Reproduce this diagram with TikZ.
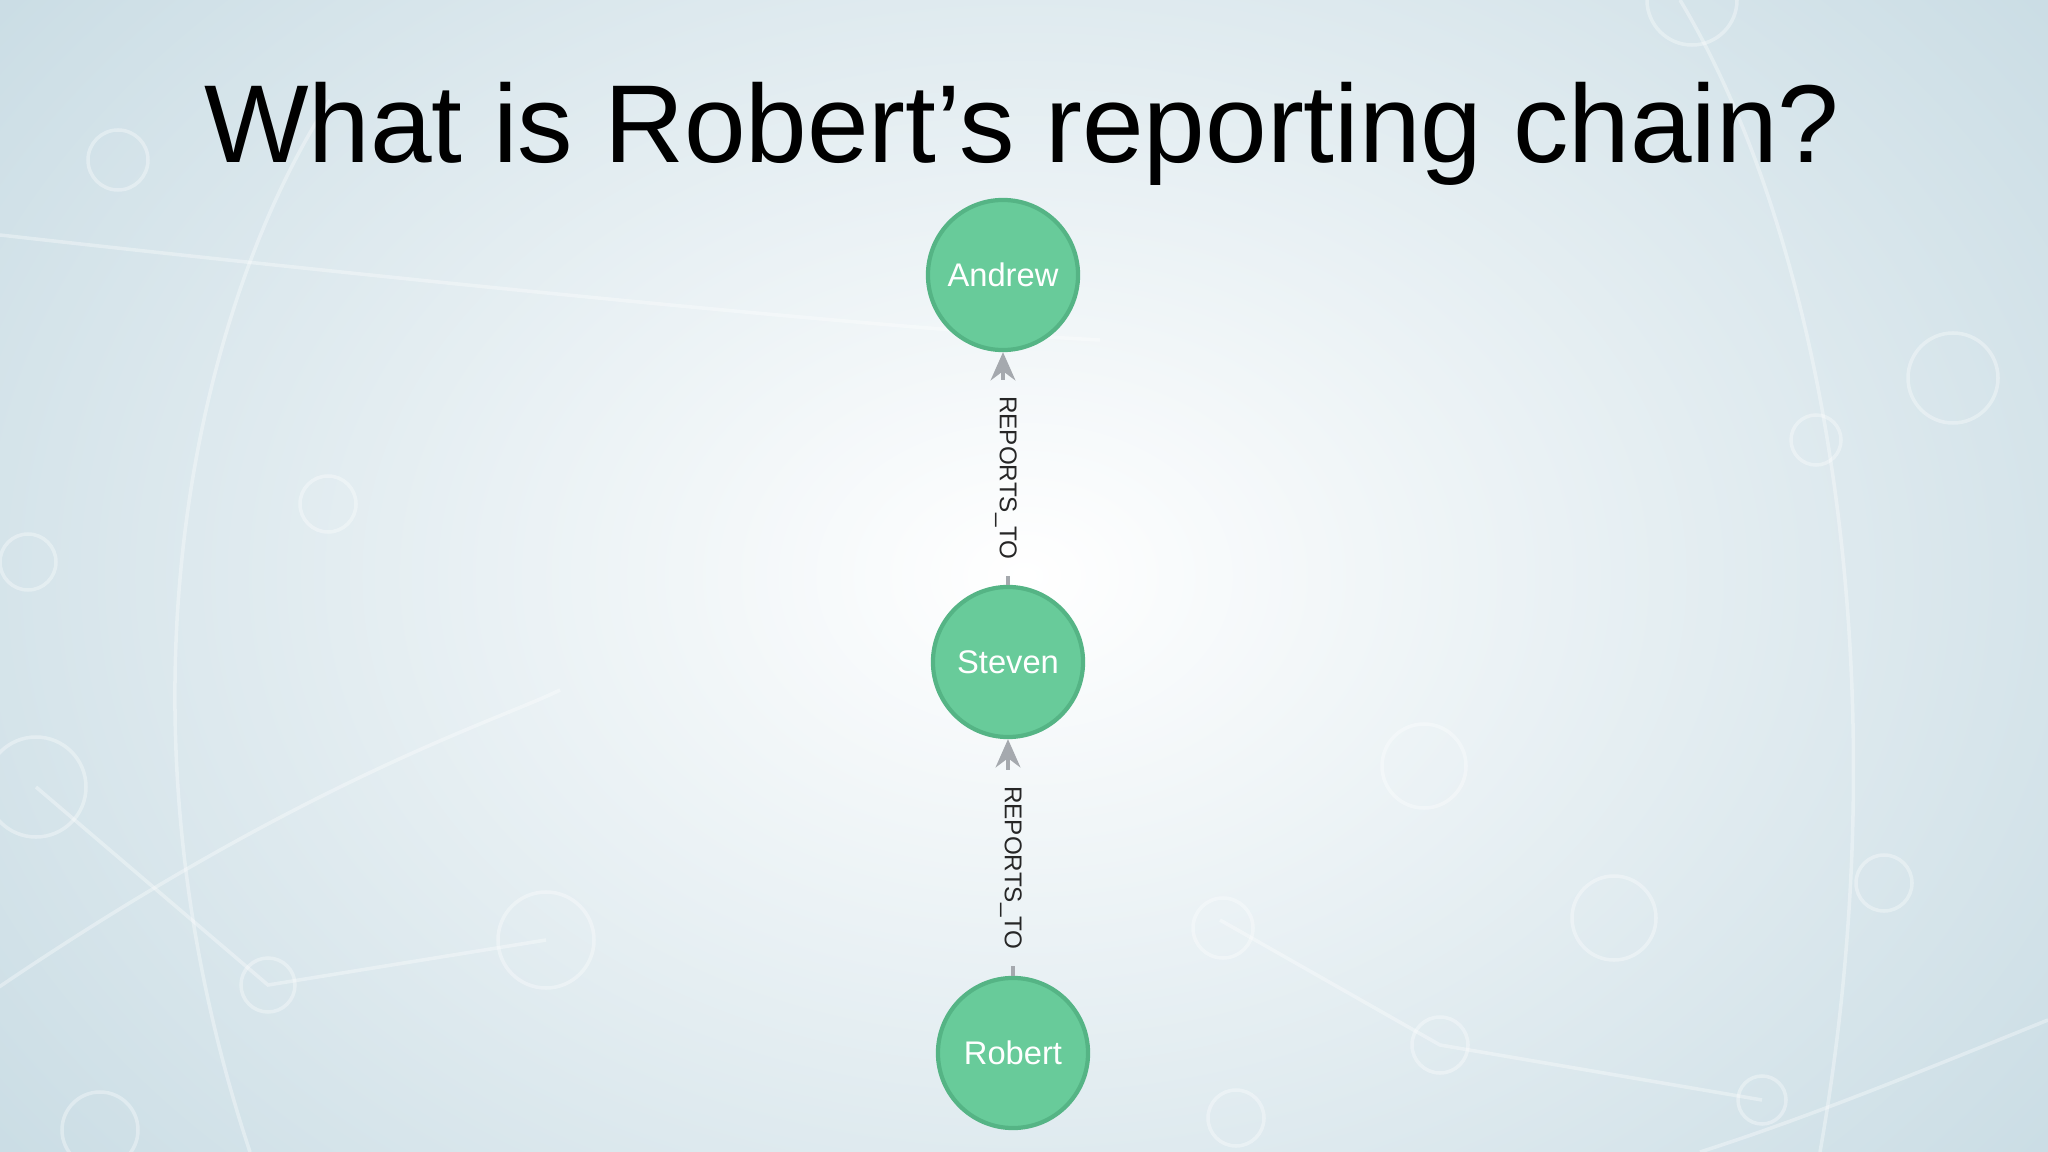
\documentclass[tikz,border=0pt]{standalone}
\usepackage{fontspec}
\setmainfont{Liberation Sans}
\usetikzlibrary{arrows.meta}
\definecolor{nodegreen}{HTML}{68CB9A}
\definecolor{nodeborder}{HTML}{55B485}
\definecolor{edgegrey}{HTML}{A5A9AE}
\definecolor{bgedge}{HTML}{C9DCE4}
\begin{document}
\begin{tikzpicture}[x=0.01cm,y=-0.01cm,
  person/.style={circle,fill=nodegreen,draw=nodeborder,line width=1.2pt,minimum size=1.5cm,inner sep=0,text=white,font=\fontsize{9.3}{11}\selectfont},
  rel/.style={rotate=-90,inner sep=4.5pt,font=\fontsize{6.9}{8}\selectfont,text=black!85},
  edge/.style={draw=edgegrey,line width=1.3pt},
  deco/.style={draw=white,line width=1pt,opacity=0.35}]
\useasboundingbox (0,0) rectangle (2048,1152);
\shade[inner color=white,outer color=bgedge] (-300,-400) rectangle (2348,1552);
% faint background network
\draw[deco] (36,787) circle (50);
\draw[deco] (118,160) circle (30);
\draw[deco] (546,940) circle (48);
\draw[deco] (1424,766) circle (42);
\draw[deco] (1223,928) circle (30);
\draw[deco] (1884,883) circle (28);
\draw[deco] (1953,378) circle (45);
\draw[deco] (1692,0) circle (45);
\draw[deco] (1816,440) circle (25);
\draw[deco] (1440,1045) circle (28);
\draw[deco] (1762,1100) circle (24);
\draw[deco] (328,504) circle (28);
\draw[deco] (28,562) circle (28);
\draw[deco] (268,985) circle (27);
\draw[deco] (1614,918) circle (42);
\draw[deco] (1236,1118) circle (28);
\draw[deco] (100,1130) circle (38);
\draw[deco] (0,235) .. controls (400,280) and (900,330) .. (1100,340);
\draw[deco] (-20,1000) .. controls (300,780) and (500,720) .. (560,690);
\draw[deco] (1680,0) .. controls (1830,250) and (1900,700) .. (1820,1152);
\draw[deco] (250,1152) .. controls (100,700) and (200,300) .. (330,100);
\draw[deco] (1220,920) -- (1440,1045) -- (1762,1100);
\draw[deco] (36,787) -- (268,985) -- (546,940);
\draw[deco] (2048,1020) .. controls (1900,1080) and (1800,1120) .. (1700,1152);
% title
\node[font=\fontsize{31.5}{36}\selectfont] (title) at (1022,134) {What is Robert’s reporting chain?};
% graph
\node[person] (an) at (1003,275) {Andrew};
\node[person] (st) at (1008,662) {Steven};
\node[person] (ro) at (1013,1053) {Robert};
\node[rel] (r1) at (1006,478) {REPORTS\_TO};
\node[rel] (r2) at (1011,868) {REPORTS\_TO};
\draw[edge] (st.north) -- (st.north |- r1.east);
\draw[edge,-{Stealth[length=8pt,width=7pt]}] (an.south |- r1.west) -- (an.south);
\draw[edge] (ro.north) -- (ro.north |- r2.east);
\draw[edge,-{Stealth[length=8pt,width=7pt]}] (st.south |- r2.west) -- (st.south);
\end{tikzpicture}
\end{document}
